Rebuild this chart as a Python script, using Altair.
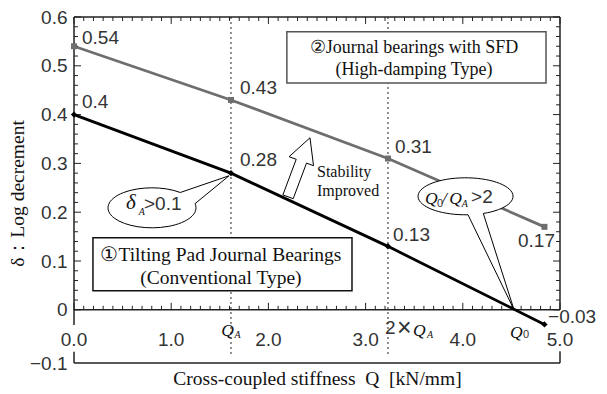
import altair as alt
import pandas as pd

# ---------------- data ----------------
q_points = [0.0, 1.615, 3.23, 4.84]            # 0, Q_A, 2xQ_A, end
delta_conventional = [0.40, 0.28, 0.13, -0.03]  # (1) tilting pad
delta_sfd = [0.54, 0.43, 0.31, 0.17]            # (2) with SFD

q_a = 1.615
q_2a = 3.23

x_tick_values = [0, 1, 2, 3, 4, 5]
x_tick_labels = ["0.0", "1.0", "2.0", "3.0", "4.0", "5.0"]
y_label_values = [0.0, 0.1, 0.2, 0.3, 0.4, 0.5, 0.6]
x_minor_ticks = [i / 10 for i in range(51)]
y_minor_ticks = [i / 50 for i in range(31)]

# label positions (data units)
sfd_label_x = [0.082, 1.708, 3.302, 4.568]
sfd_label_y = [0.556, 0.455, 0.334, 0.140]
conv_label_x = [0.082, 1.708, 3.282, 4.877]
conv_label_y = [0.425, 0.307, 0.154, -0.015]

# ---------------- style ----------------
X_MIN, X_MAX = 0.0, 5.0
Y_TOP, Y_BOTTOM = 0.6, -0.109
GRAY = "#6e6e6e"
TXT = "#333333"
SANS = "Liberation Sans"
SERIF = "Liberation Serif"
X_TITLE = "Cross-coupled stiffness\u00a0\u00a0Q\u00a0\u00a0[kN/mm]"
Y_TITLE = "δ：Log decrement"

xs = alt.Scale(domain=[X_MIN, X_MAX], nice=False, zero=False)
ys = alt.Scale(domain=[Y_BOTTOM, Y_TOP], nice=False, zero=False)

y_axis = alt.Axis(
    values=[Y_BOTTOM] + y_label_values,
    labelExpr="datum.value < -0.05 ? '\u22120.1' : (datum.value == 0 ? '0' : format(datum.value, '.1f'))",
    domain=False, ticks=False, tickSize=0, grid=False, labelPadding=7,
    labelFont=SANS, labelFontSize=19, labelColor=TXT, labelOverlap=False,
    labelFlush=False,
    title=Y_TITLE, titleFont=SERIF, titleFontSize=19.5,
    titleFontWeight="normal", titleColor="#111111", titleX=-57, titleY=176,
    titleAngle=270, titleAlign="center", titleBaseline="middle")
x_axis = alt.Axis(
    labels=False, ticks=False, domain=False, grid=False,
    title=X_TITLE, titleFont=SERIF,
    titleFontSize=19.5, titleFontWeight="normal", titleColor="#111111",
    titleY=15, titleBaseline="middle")


def X(f):
    return alt.X(f, type="quantitative", scale=xs, axis=x_axis, title=X_TITLE)


def Y(f):
    return alt.Y(f, type="quantitative", scale=ys, axis=y_axis, title=Y_TITLE)


def fmt(v):
    return f"{v:g}".replace("-", "\u2212")


# ---------------- frame and inward ticks ----------------
frame = pd.DataFrame([
    dict(x=X_MIN, x2=X_MAX, y=Y_TOP, y2=Y_TOP),
    dict(x=X_MAX, x2=X_MAX, y=0.0, y2=Y_TOP),
    dict(x=X_MIN, x2=X_MAX, y=0.0, y2=0.0),
    dict(x=X_MIN, x2=X_MIN, y=-0.031, y2=Y_TOP),
    dict(x=X_MIN, x2=X_MIN, y=Y_BOTTOM, y2=-0.086),
    dict(x=X_MIN, x2=X_MAX, y=Y_BOTTOM, y2=Y_BOTTOM),
    dict(x=X_MAX, x2=X_MAX, y=Y_BOTTOM, y2=-0.085),
])

LX_MAJ, LX_MIN = 0.072, 0.041
LY_MAJ, LY_MIN = 0.0143, 0.0082
tick_rows = []
for i, v in enumerate(x_minor_ticks):
    L = LY_MAJ if i % 10 == 0 else LY_MIN
    tick_rows.append(dict(x=v, x2=v, y=Y_TOP, y2=Y_TOP - L))
    tick_rows.append(dict(x=v, x2=v, y=0.0, y2=L))
for i, v in enumerate(y_minor_ticks):
    L = LX_MAJ if i % 5 == 0 else LX_MIN
    tick_rows.append(dict(x=X_MIN, x2=X_MIN + L, y=v, y2=v))
    tick_rows.append(dict(x=X_MAX, x2=X_MAX - L, y=v, y2=v))
ticks = pd.DataFrame(tick_rows)

frame_layer = alt.Chart(frame).mark_rule(color="#222222", strokeWidth=1.5).encode(
    x=X("x"), x2="x2", y=Y("y"), y2="y2")
tick_layer = alt.Chart(ticks).mark_rule(color="#222222", strokeWidth=1).encode(
    x=X("x"), x2="x2", y=Y("y"), y2="y2")

dotted = pd.DataFrame(dict(x=[q_a, q_2a], y=[Y_TOP, Y_TOP], y2=[-0.096, -0.096]))
dotted_layer = alt.Chart(dotted).mark_rule(color="#222222", strokeWidth=1,
                                           strokeDash=[2, 3]).encode(
    x=X("x"), y=Y("y"), y2="y2")

# ---------------- series ----------------
conv = pd.DataFrame(dict(q=q_points, d=delta_conventional))
sfd = pd.DataFrame(dict(q=q_points, d=delta_sfd))

sfd_line = alt.Chart(sfd).mark_line(color=GRAY, strokeWidth=2.8).encode(
    x=X("q"), y=Y("d"))
conv_line = alt.Chart(conv).mark_line(color="black", strokeWidth=2.8).encode(
    x=X("q"), y=Y("d"))
sfd_pts = alt.Chart(sfd).mark_square(size=36, color=GRAY, opacity=1).encode(
    x=X("q"), y=Y("d"))
conv_pts = alt.Chart(conv).mark_point(shape="diamond", filled=True, size=40,
                                      color="black", opacity=1).encode(
    x=X("q"), y=Y("d"))

# ---------------- value labels ----------------
vlabels = pd.DataFrame(dict(
    x=sfd_label_x + conv_label_x,
    y=sfd_label_y + conv_label_y,
    t=[fmt(v) for v in delta_sfd] + [fmt(v) for v in delta_conventional]))
vlabel_layer = alt.Chart(vlabels).mark_text(
    align="left", baseline="middle", font=SANS, fontSize=19, color=TXT).encode(
    x=X("x"), y=Y("y"), text="t:N")

xticklab = pd.DataFrame(dict(x=x_tick_values, y=[-0.0615] * 6, t=x_tick_labels))
xticklab_layer = alt.Chart(xticklab).mark_text(
    align="center", baseline="middle", font=SANS, fontSize=19, color=TXT).encode(
    x=X("x"), y=Y("y"), text="t:N")

# ---------------- boxes ----------------
boxes = pd.DataFrame(dict(x=[2.19, 0.195], x2=[4.856, 2.86],
                          y=[0.465, 0.039], y2=[0.570, 0.1475],
                          c=["#555555", "#111111"]))
box_layer = alt.Chart(boxes).mark_rect(fill="white", strokeWidth=1.5).encode(
    x=X("x"), x2="x2", y=Y("y"), y2="y2",
    stroke=alt.Stroke("c:N", scale=None))
box_text1 = pd.DataFrame(dict(
    x=[3.498, 3.498], y=[0.537, 0.492],
    t=["②Journal bearings with SFD", "(High-damping Type)"]))
box_text2 = pd.DataFrame(dict(
    x=[1.512, 1.512], y=[0.113, 0.0656],
    t=["①Tilting Pad Journal Bearings", "(Conventional Type)"]))
box_text1_layer = alt.Chart(box_text1).mark_text(
    align="center", baseline="middle", font=SERIF, fontSize=18,
    color="#111111").encode(x=X("x"), y=Y("y"), text="t:N")
box_text2_layer = alt.Chart(box_text2).mark_text(
    align="center", baseline="middle", font=SERIF, fontSize=19.5,
    color="#111111").encode(x=X("x"), y=Y("y"), text="t:N")

# ---------------- callouts & arrow (custom symbol paths) ----------------
callout1_path = "M 0.5657 -0.3064 A 0.88 0.4 0 1 0 0.8608 -0.0832 L 1.54 -0.64 Z"
callout2_path = "M 0.0497 0.3695 A 0.95 0.37 0 1 1 0.3559 0.3431 L 0.97 2.27 Z"
arrow_path = ("M 0.28 -0.60 L 0.35 -0.042 L 0.21 -0.094 L -0.056 0.618 "
              "L -0.262 0.542 L 0.004 -0.17 L -0.138 -0.222 Z")
shapes = pd.DataFrame(dict(x=[0.8025, 4.028, 2.284], y=[0.209, 0.2326, 0.291],
                           s=[callout1_path, callout2_path, arrow_path]))
shape_layer = alt.Chart(shapes).mark_point(
    filled=True, fill="white", stroke="black", strokeWidth=1, size=10000,
    opacity=1, fillOpacity=1, strokeOpacity=1).encode(
    x=X("x"), y=Y("y"), shape=alt.Shape("s:N", scale=None))

# ---------------- symbols text ----------------
delta_sym = pd.DataFrame(dict(x=[0.535], y=[0.219], t=["δ"]))
delta_layer = alt.Chart(delta_sym).mark_text(
    align="left", baseline="middle", font=SERIF, fontStyle="italic",
    fontSize=21, color="#111111").encode(x=X("x"), y=Y("y"), text="t:N")
ital = pd.DataFrame(dict(
    x=[1.515, 3.488, 4.486, 3.611, 3.785, 3.86],
    y=[-0.043, -0.043, -0.047, 0.2275, 0.2275, 0.2275],
    t=["Q", "Q", "Q", "Q", "/", "Q"]))
ital_layer = alt.Chart(ital).mark_text(
    align="left", baseline="middle", font=SERIF, fontStyle="italic",
    fontSize=17.5, color="#111111").encode(x=X("x"), y=Y("y"), text="t:N")
sub_a = pd.DataFrame(dict(x=[0.665, 1.65, 3.632, 3.99],
                          y=[0.201, -0.051, -0.051, 0.217],
                          t=["A", "A", "A", "A"]))
sub_a_layer = alt.Chart(sub_a).mark_text(
    align="left", baseline="middle", font=SERIF, fontStyle="italic",
    fontSize=10, color="#111111").encode(x=X("x"), y=Y("y"), text="t:N")
sub_0 = pd.DataFrame(dict(x=[4.619, 3.735], y=[-0.051, 0.217], t=["0", "0"]))
sub_0_layer = alt.Chart(sub_0).mark_text(
    align="left", baseline="middle", font=SANS, fontSize=11,
    color=TXT).encode(x=X("x"), y=Y("y"), text="t:N")
sans_ann = pd.DataFrame(dict(x=[0.720, 4.085, 3.200],
                             y=[0.216, 0.2305, -0.038],
                             t=[">0.1", ">2", "2"]))
sans_ann_layer = alt.Chart(sans_ann).mark_text(
    align="left", baseline="middle", font=SANS, fontSize=19,
    color=TXT).encode(x=X("x"), y=Y("y"), text="t:N")
times_sym = pd.DataFrame(dict(x=[3.322], y=[-0.038], t=["×"]))
times_layer = alt.Chart(times_sym).mark_text(
    align="left", baseline="middle", font=SANS, fontSize=25,
    color=TXT).encode(x=X("x"), y=Y("y"), text="t:N")
stab = pd.DataFrame(dict(x=[2.5, 2.5], y=[0.283, 0.244],
                         t=["Stability", "Improved"]))
stab_layer = alt.Chart(stab).mark_text(
    align="left", baseline="middle", font=SERIF, fontSize=16,
    color="#111111").encode(x=X("x"), y=Y("y"), text="t:N")

chart = alt.layer(
    sfd_line, dotted_layer, frame_layer, tick_layer, conv_line, sfd_pts,
    conv_pts, box_layer, box_text1_layer, box_text2_layer, shape_layer,
    delta_layer, ital_layer, sub_a_layer, sub_0_layer, sans_ann_layer,
    times_layer, stab_layer, vlabel_layer, xticklab_layer,
).properties(
    width=486, height=346,
    autosize=alt.AutoSizeParams(type="none"),
    padding={"left": 74, "top": 17, "right": 47, "bottom": 31},
).configure_view(stroke=None)

chart.save("out.html", embed_options={"renderer": "svg", "actions": False})
